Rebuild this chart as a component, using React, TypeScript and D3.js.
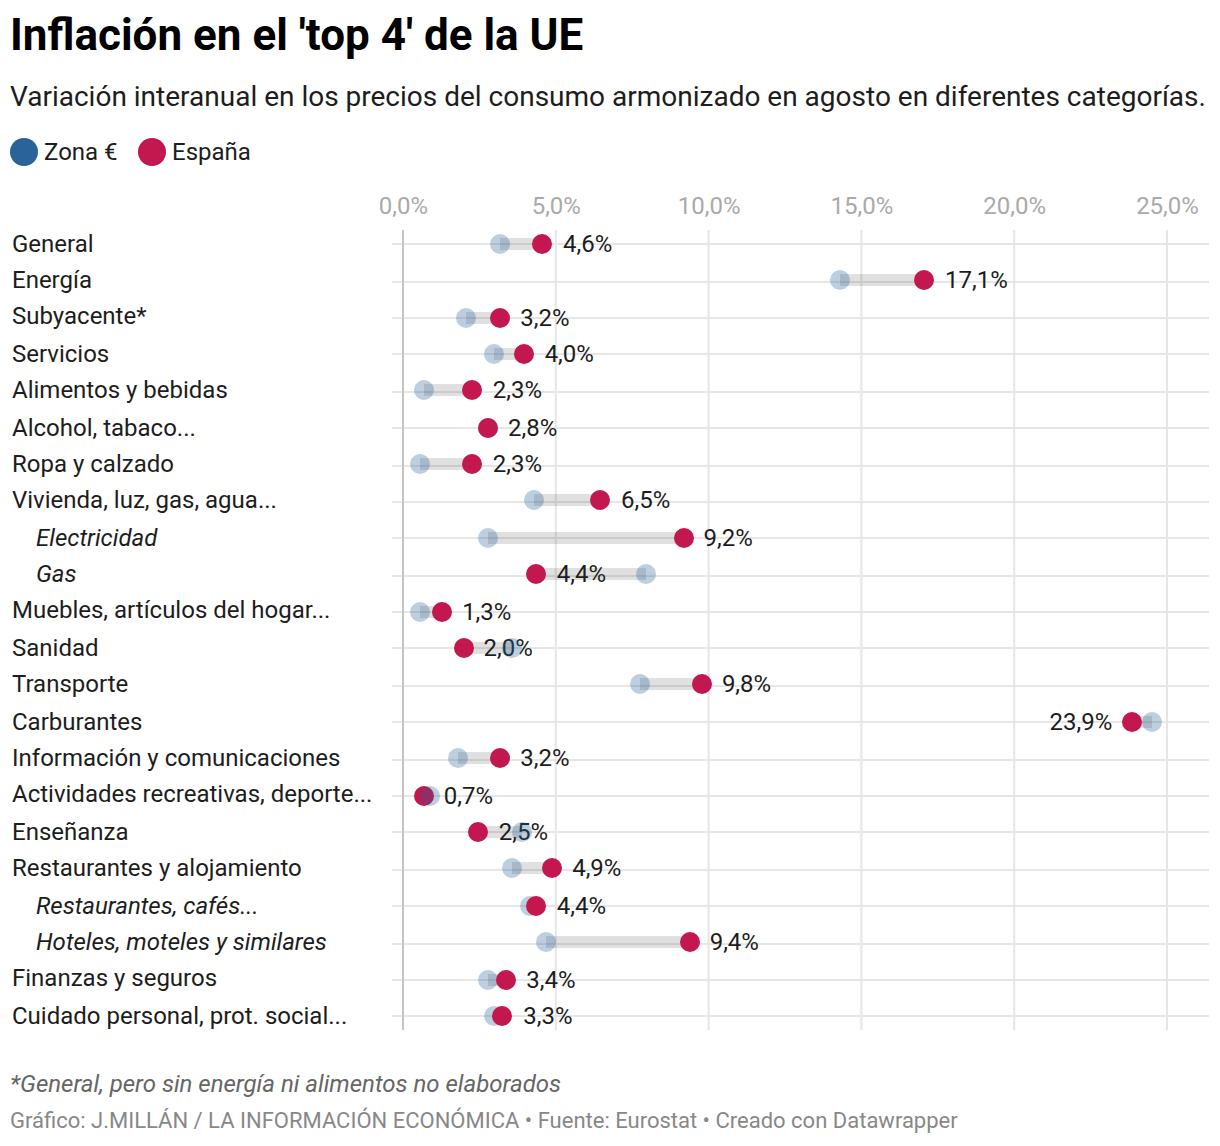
import { useEffect, useRef } from 'react';
import * as d3 from 'd3';

const categorias = [
  'General', 'Energía', 'Subyacente*', 'Servicios', 'Alimentos y bebidas', 'Alcohol, tabaco...',
  'Ropa y calzado', 'Vivienda, luz, gas, agua...', 'Electricidad', 'Gas',
  'Muebles, artículos del hogar...', 'Sanidad', 'Transporte', 'Carburantes',
  'Información y comunicaciones', 'Actividades recreativas, deporte...', 'Enseñanza',
  'Restaurantes y alojamiento', 'Restaurantes, cafés...', 'Hoteles, moteles y similares',
  'Finanzas y seguros', 'Cuidado personal, prot. social...',
];
const subcategorias = ['Electricidad', 'Gas', 'Restaurantes, cafés...', 'Hoteles, moteles y similares'];
const zonaEuro = [3.2, 14.3, 2.1, 3.0, 0.7, 2.8, 0.6, 4.3, 2.8, 8.0, 0.6, 3.6, 7.8, 24.55, 1.8, 0.9, 3.9, 3.6, 4.2, 4.7, 2.8, 3.0];
const espana = [4.6, 17.1, 3.2, 4.0, 2.3, 2.8, 2.3, 6.5, 9.2, 4.4, 1.3, 2.0, 9.8, 23.9, 3.2, 0.7, 2.5, 4.9, 4.4, 9.4, 3.4, 3.3];
const ticks = [0, 5, 10, 15, 20, 25];
const leyenda = ['Zona €', 'España'];

const AZUL = '#2a6399';
const ROJO = '#c2174f';
const FUENTE = 'Roboto, sans-serif';

const formato = d3.formatLocale({ decimal: ',', thousands: '.', grouping: [3], currency: ['', '€'] }).format('.1f');
const pct = (v: number) => `${formato(v)}%`;

// el original va a 2x, asi que todo cae en pixeles pares
const par = (v: number) => Math.floor(v / 2) * 2;
const parRed = (v: number) => Math.round(v / 2) * 2;

export default function App() {
  const ref = useRef<SVGSVGElement | null>(null);

  useEffect(() => {
    const svg = d3.select(ref.current);
    svg.selectAll('*').remove();
    svg.attr('font-family', FUENTE);

    const escalaX = d3.scaleLinear().domain([0, 25]).range([403, 1167]);
    const x = (v: number) => par(escalaX(v));
    const y = d3.scalePoint<string>().domain(categorias).range([244, 1016.38]);
    const yRejilla = (c: string) => parRed(y(c)! + 0.36);
    const yPunto = (c: string) => par(y(c)! + 0.5);
    const yTexto = (c: string) => par(y(c)! + 0.15);
    const filas = categorias.map((c, i) => ({ c, zona: zonaEuro[i], esp: espana[i] }));

    // Cabecera
    svg.append('text').attr('x', 10).attr('y', 50).attr('font-size', 44).attr('font-weight', 700)
      .attr('fill', '#000').text("Inflación en el 'top 4' de la UE");
    svg.append('text').attr('x', 10).attr('y', 106).attr('font-size', 28).attr('fill', '#1d1d1d')
      .text('Variación interanual en los precios del consumo armonizado en agosto en diferentes categorías.');

    // Leyenda
    const posLeyenda = [24, 152];
    leyenda.forEach((t, i) => {
      const cx = posLeyenda[i];
      svg.append('circle').attr('cx', cx).attr('cy', 152).attr('r', 14).attr('fill', i === 0 ? AZUL : ROJO);
      svg.append('text').attr('x', cx + 20).attr('y', 160).attr('font-size', 24).attr('fill', '#1d1d1d').text(t);
    });

    // Eje superior
    const eje = svg.append('g').attr('transform', 'translate(0,214)')
      .call(d3.axisTop(escalaX).tickValues(ticks).tickFormat(d => pct(d as number)).tickSize(0).tickPadding(0));
    eje.select('.domain').remove();
    eje.selectAll('text').attr('font-family', FUENTE).attr('font-size', 24).attr('fill', '#aaa').attr('dy', 0);

    // Rejilla
    svg.append('g').selectAll('line').data(categorias).enter().append('line')
      .attr('x1', 392).attr('x2', 1209)
      .attr('y1', d => yRejilla(d)).attr('y2', d => yRejilla(d))
      .attr('stroke', '#e6e6e6').attr('stroke-width', 2);
    svg.append('g').selectAll('line').data(ticks).enter().append('line')
      .attr('x1', d => escalaX(d)).attr('x2', d => escalaX(d))
      .attr('y1', 230).attr('y2', 1030)
      .attr('stroke', d => d === 0 ? '#c4c4c4' : '#e6e6e6').attr('stroke-width', 2);

    // Categorías
    svg.append('g').selectAll('text').data(categorias).enter().append('text')
      .attr('x', d => subcategorias.includes(d) ? 36 : 12)
      .attr('y', d => yTexto(d) + 8)
      .attr('font-size', 24)
      .attr('font-style', d => subcategorias.includes(d) ? 'italic' : 'normal')
      .attr('fill', '#1d1d1d')
      .text(d => d);

    // Barras
    svg.append('g').selectAll('rect').data(filas).enter().append('rect')
      .attr('x', d => Math.min(x(d.zona), x(d.esp)))
      .attr('y', d => yPunto(d.c) - 6)
      .attr('width', d => Math.abs(x(d.esp) - x(d.zona)))
      .attr('height', 12)
      .attr('fill', '#000').attr('opacity', 0.12);

    // Etiquetas de valor
    svg.append('g').selectAll('text').data(filas).enter().append('text')
      .attr('x', d => d.esp > 20 ? escalaX(d.esp) - 21 : escalaX(d.esp) + 19.4)
      .attr('y', d => yPunto(d.c) + 8)
      .attr('text-anchor', d => d.esp > 20 ? 'end' : 'start')
      .attr('font-size', 24)
      .attr('fill', '#1d1d1d')
      .text(d => pct(d.esp));

    // Puntos: en cada fila el de mayor valor va encima
    const puntos = filas.flatMap(d => [
      { c: d.c, v: d.zona, color: AZUL, opacidad: 0.31 },
      { c: d.c, v: d.esp, color: ROJO, opacidad: 1 },
    ]);
    svg.append('g').selectAll('circle').data(d3.sort(puntos, d => d.v)).enter().append('circle')
      .attr('cx', d => x(d.v)).attr('cy', d => yPunto(d.c)).attr('r', 10)
      .attr('fill', d => d.color).attr('opacity', d => d.opacidad);

    // Notas
    svg.append('text').attr('x', 10).attr('y', 1092).attr('font-size', 24).attr('font-style', 'italic')
      .attr('fill', '#666').text('*General, pero sin energía ni alimentos no elaborados');
    svg.append('text').attr('x', 10).attr('y', 1128).attr('font-size', 22).attr('fill', '#888')
      .text('Gráfico: J.MILLÁN / LA INFORMACIÓN ECONÓMICA • Fuente: Eurostat • Creado con Datawrapper');
  }, []);

  return <svg ref={ref} width={1220} height={1146} style={{ position: 'absolute', left: 0, top: 0, background: '#fff' }} />;
}
